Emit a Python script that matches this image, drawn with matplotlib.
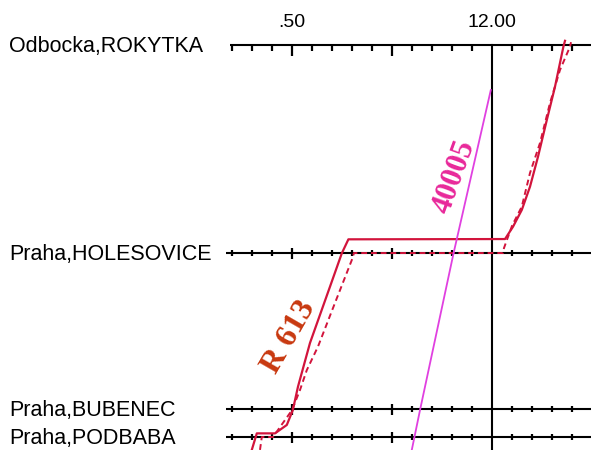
import matplotlib
matplotlib.use('Agg')
import matplotlib.pyplot as plt
import numpy as np

# stations (name, km from Podbaba)
stations = ['Praha,PODBABA', 'Praha,BUBENEC', 'Praha,HOLESOVICE', 'Odbocka,ROKYTKA']
stationKm = [0.0, 1.0, 6.57, 14.0]

# time axis in minutes after 11:00
tickMinutes = list(range(47, 65))
majorMinutes = [50, 55, 60]
timeLabels = ['.50', '12.00']
timeLabelMinutes = [50, 60]

# R 613 - actual run (solid)
r613Time = [47.99, 48.24, 49.15, 49.74, 50.04, 50.30, 50.90, 51.90, 52.49, 52.82,
            60.65, 61.05, 61.49, 61.90, 62.30, 62.74, 63.15, 63.57, 63.65]
r613Km = [-0.46, 0.13, 0.13, 0.43, 0.96, 1.80, 3.36, 5.37, 6.56, 7.06,
          7.07, 7.51, 8.11, 8.94, 10.01, 11.32, 12.51, 13.94, 14.15]

# R 613 - plan (dashed)
r613PlanTime = [48.40, 48.49, 49.05, 50.00, 50.40, 50.74, 51.30, 52.15, 52.99, 53.10,
                60.55, 60.60, 61.00, 61.49, 61.90, 62.40, 62.90, 63.40, 63.90, 63.95]
r613PlanKm = [-0.46, 0.0, 0.0, 0.96, 1.68, 2.39, 3.23, 4.79, 6.32, 6.57,
              6.57, 6.75, 7.54, 8.23, 9.43, 10.50, 11.93, 13.11, 13.94, 14.10]

# 40005
t40005Time = [55.99, 56.40, 58.08, 59.94]
t40005Km = [-0.46, 0.96, 6.57, 12.39]

# px -> data helpers (layout only, 20 px per minute, 28 px per km)
def dx(px):
    return px / 20.0

def dy(px):
    return px / 28.0

fig = plt.figure(figsize=(5.91, 4.5), dpi=100)
ax = fig.add_axes([0, 0, 1, 1])
ax.set_xlim(35.4, 64.95)
ax.set_ylim(-0.464, 15.607)
ax.axis('off')

black = '#000000'
# station lines with ticks
for i in range(len(stations)):
    km = stationKm[i]
    top = (i == len(stations) - 1)
    start = 46.9 if top else 46.7
    ax.plot([start, 66], [km, km], color=black, lw=1.5, solid_capstyle='butt', zorder=2)
    for m in tickMinutes:
        if m == 60:
            continue
        big = m in majorMinutes
        if top:
            ln = dy(11) if big else dy(6)
            ax.plot([m, m], [km, km - ln], color=black, lw=1.6, solid_capstyle='butt', zorder=2)
        else:
            ln = dy(5.5) if big else dy(3)
            ax.plot([m, m], [km - ln, km + ln], color=black, lw=1.6, solid_capstyle='butt', zorder=2)
    ax.text(35.85, km - dy(7), stations[i], fontsize=15.5, family='Liberation Sans',
            ha='left', va='baseline', color=black)

# 12:00 line
ax.plot([60, 60], [stationKm[-1], -1], color=black, lw=1.5, zorder=2)

# time labels
for lab, m in zip(timeLabels, timeLabelMinutes):
    ax.text(m, stationKm[-1] + dy(22), lab, fontsize=14, family='Liberation Sans',
            ha='center', va='center', color=black)

# trains
ax.plot(r613Time, r613Km, color='#d2143c', lw=1.6, zorder=3)
ax.plot(r613PlanTime, r613PlanKm, color='#d2143c', lw=1.4, linestyle=(0, (3, 2)), zorder=3)
ax.plot(t40005Time, t40005Km, color='#e040e0', lw=1.3, zorder=3)

ax.text(49.86, 3.58, 'R 613', fontsize=23, family='Liberation Serif', weight='bold',
        color='#c8380f', rotation=60, rotation_mode='anchor', ha='center', va='center')
ax.text(58.11, 9.30, '40005', fontsize=22, family='Liberation Serif', weight='bold',
        color='#e8289a', rotation=70, rotation_mode='anchor', ha='center', va='center')

fig.savefig('out.png', dpi=100)
